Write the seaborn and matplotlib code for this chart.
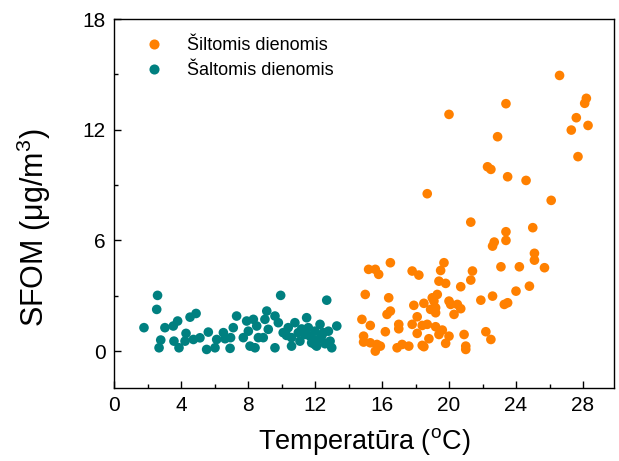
import matplotlib
matplotlib.use("Agg")
import matplotlib.pyplot as plt
import seaborn as sns
import pandas as pd
import numpy as np

# Warm-day points (Šiltomis dienomis)
warm_x = [26.1, 21.3, 23.4, 23.4, 25.0, 22.7, 22.6, 25.1, 25.1, 25.7, 24.2, 23.1, 24.8, 24.0,
          22.6, 21.9, 23.5, 23.3, 22.2, 22.5, 21.4, 21.3, 20.7, 19.7, 19.5, 19.4, 19.8, 16.5,
          15.2, 15.6, 15.8, 17.8, 18.2, 15.0, 16.4, 17.9, 18.5, 19.0, 19.1, 19.3, 19.2, 19.2,
          20.0, 20.1, 20.5, 20.7, 20.3, 18.9, 16.5, 16.3, 14.8, 18.1, 15.3, 17.0, 17.0, 17.8,
          18.4, 18.7, 19.2, 19.6, 19.4, 16.2, 18.1, 18.8, 20.0, 19.8, 20.9, 21.0, 21.0, 14.9,
          14.9, 15.3, 15.7, 15.6, 15.9, 16.9, 17.2, 17.6, 18.4, 18.5,
          26.6, 28.2, 28.1, 27.6, 27.3, 28.3, 23.4, 20.0, 22.9, 27.7, 22.3, 22.5, 23.5, 24.6, 18.7]
warm_y = [8.17, 6.99, 6.47, 6.00, 6.69, 5.91, 5.69, 5.30, 4.93, 4.52, 4.57, 4.57, 3.52, 3.25,
          2.98, 2.76, 2.62, 2.53, 1.05, 0.63, 4.34, 3.85, 3.49, 4.79, 4.37, 3.79, 3.67, 4.79,
          4.43, 4.43, 4.16, 4.34, 4.12, 3.07, 2.89, 2.48, 2.59, 2.89, 2.71, 3.07, 2.35, 2.08,
          2.71, 2.53, 2.53, 2.30, 1.99, 2.26, 2.17, 1.99, 1.72, 1.86, 1.39, 1.45, 1.21, 1.45,
          1.39, 1.45, 1.32, 1.14, 0.90, 1.05, 0.96, 0.67, 0.81, 0.42, 0.90, 0.27, 0.09, 0.81,
          0.49, 0.45, 0.36, 0.00, 0.27, 0.18, 0.36, 0.27, 0.31, 0.24,
          14.94, 13.70, 13.43, 12.65, 11.98, 12.23, 13.41, 12.83, 11.62, 10.54, 9.99, 9.85, 9.45, 9.25, 8.53]

# Cold-day points (Šaltomis dienomis)
cold_x = [1.79, 2.60, 2.55, 2.79, 2.69, 3.04, 3.54, 3.80, 3.58, 3.88, 4.30, 4.54, 4.90, 4.24,
          4.74, 5.13, 5.63, 5.53, 6.03, 6.13, 6.53, 6.63, 6.93, 7.12, 7.32, 6.96, 7.72, 7.92,
          8.02, 8.12, 8.32, 8.52, 8.62, 8.42, 9.01, 9.12, 9.21, 8.91, 9.61, 9.61, 9.95, 9.81,
          10.1, 10.4, 10.6, 10.6, 10.8, 11.0, 11.1, 11.5, 11.6, 11.7, 11.8, 12.0, 12.1, 12.3,
          12.4, 12.7, 12.8, 12.9, 13.0, 13.3, 12.5, 12.2, 11.4, 11.9, 12.6, 10.3, 11.2, 12.0]
cold_y = [1.27, 3.02, 2.26, 0.60, 0.18, 1.27, 1.36, 1.63, 0.54, 0.18, 0.96, 1.84, 2.04, 0.54,
          0.63, 0.72, 1.03, 0.09, 0.18, 0.63, 1.00, 0.67, 0.15, 1.27, 1.90, 0.73, 0.73, 1.63,
          1.08, 0.27, 1.72, 1.36, 0.73, 0.18, 1.72, 2.17, 1.18, 0.73, 1.90, 0.18, 3.02, 1.54,
          1.00, 1.27, 0.73, 0.27, 1.54, 1.00, 0.54, 1.81, 1.27, 0.81, 0.45, 1.08, 0.27, 1.45,
          0.81, 2.76, 1.08, 0.54, 0.18, 1.36, 1.00, 0.63, 0.90, 0.60, 0.40, 0.85, 1.20, 0.35]

series_labels = ["Šiltomis dienomis", "Šaltomis dienomis"]
colors = ["#FF8000", "#008080"]

x_ticks = [0, 4, 8, 12, 16, 20, 24, 28]
y_ticks = [0, 6, 12, 18]

df = pd.DataFrame({
    "x": warm_x + cold_x,
    "y": warm_y + cold_y,
    "group": [series_labels[0]] * len(warm_x) + [series_labels[1]] * len(cold_x),
})

sns.set_style("ticks")
plt.rcParams["font.family"] = ["Liberation Sans", "DejaVu Sans"]
plt.rcParams["mathtext.fontset"] = "custom"
plt.rcParams["mathtext.rm"] = "Liberation Sans"
plt.rcParams["mathtext.it"] = "Liberation Sans"
plt.rcParams["text.color"] = "black"
plt.rcParams["axes.labelcolor"] = "black"
plt.rcParams["xtick.color"] = "black"
plt.rcParams["ytick.color"] = "black"

fig = plt.figure(figsize=(6.19, 4.61), dpi=100)
ax = fig.add_axes([114 / 619, 1 - 388 / 461, 500 / 619, 369 / 461])

sns.scatterplot(data=df, x="x", y="y", hue="group", hue_order=series_labels,
                palette=colors, s=48, linewidth=0, edgecolor="none", ax=ax)

ax.set_xlim(0, 29.85)
ax.set_ylim(-2, 18)
ax.set_xticks(x_ticks)
ax.set_yticks(y_ticks)
ax.set_xticks([2, 6, 10, 14, 18, 22, 26], minor=True)
ax.set_yticks([3, 9, 15], minor=True)
ax.tick_params(which="major", direction="in", length=5, width=1, labelsize=15, pad=6)
ax.tick_params(which="minor", direction="in", length=3, width=1)
for sp in ax.spines.values():
    sp.set_linewidth(1)
    sp.set_color("black")

ax.set_xlabel("Temperatūra ($\\mathrm{^{o}}$C)", fontsize=19.5, labelpad=8)
ax.set_ylabel("SFOM (μg/m$\\mathrm{^{3}}$)", fontsize=22)
ax.yaxis.set_label_coords(-0.122, 0.434)

leg = ax.legend(loc="upper left", bbox_to_anchor=(0.012, 0.995), frameon=False,
                fontsize=13, handletextpad=0.8, labelspacing=0.45, markerscale=1.05)

fig.savefig("out.png", dpi=100)
